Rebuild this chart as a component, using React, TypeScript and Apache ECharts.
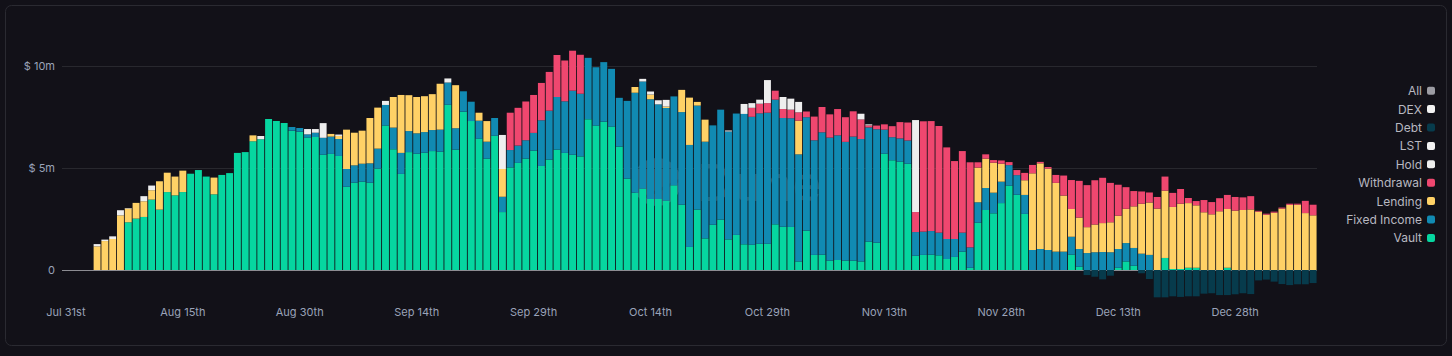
import React, { useEffect, useRef } from 'react';
import * as echarts from 'echarts';

// ---- categories: one per day, Jul 31st onward ----
const START = Date.UTC(2023, 6, 31);
const DAY_COUNT = 161;
const categories: string[] = [];
for (let i = 0; i < DAY_COUNT; i++) {
  categories.push(new Date(START + i * 86400000).toISOString().slice(0, 10));
}
const MONTHS = ['Jan', 'Feb', 'Mar', 'Apr', 'May', 'Jun', 'Jul', 'Aug', 'Sep', 'Oct', 'Nov', 'Dec'];

// ---- values, in $ millions ----
const vault = [
  0, 0, 0, 0, 0, 0, 0, 0, 2.34, 2.52,
  2.60, 3.45, 2.96, 3.82, 3.66, 3.82, 4.72, 4.90, 4.58, 3.71,
  4.66, 4.75, 5.74, 5.78, 6.31, 6.41, 7.40, 7.30, 7.21, 6.83,
  6.78, 6.49, 6.52, 5.65, 5.69, 5.59, 4.08, 4.28, 4.33, 4.28,
  4.97, 7.08, 5.92, 4.71, 5.78, 5.70, 5.75, 5.83, 5.80, 8.10,
  5.90, 7.76, 7.30, 6.44, 5.46, 6.58, 2.84, 5.03, 5.25, 5.46,
  5.85, 5.10, 5.41, 5.90, 5.74, 5.65, 5.57, 7.39, 7.08, 7.27,
  7.03, 6.05, 4.48, 3.79, 3.99, 3.48, 3.48, 3.40, 4.15, 3.20,
  1.13, 2.96, 1.55, 2.22, 2.47, 1.50, 1.72, 1.26, 1.24, 1.29,
  1.29, 2.24, 2.12, 2.11, 0.42, 1.93, 0.74, 0.75, 0.46, 0.49,
  0.46, 0.46, 0.42, 1.39, 1.34, 5.70, 5.38, 5.31, 5.21, 0.70,
  0.74, 0.75, 0.72, 0.54, 0.64, 0.90, 0.11, 2.32, 2.94, 2.78,
  3.28, 4.13, 3.69, 2.75, 0, 0, 0, 0, 0, 0.75,
  0.16, 0, 0, 0, 0, 0.11, 0.42, 0.21, 0, 0,
  0, 0.59, 0.05, 0.05, 0.11, 0.11, 0, 0, 0, 0.11,
  0, 0, 0, 0, 0, 0, 0, 0, 0, 0,
  0,
];

const fixedIncome = [
  0, 0, 0, 0, 0, 0, 0, 0, 0, 0,
  0, 0, 0, 0, 0, 0, 0, 0, 0, 0,
  0, 0, 0, 0, 0, 0, 0, 0, 0, 0.18,
  0.18, 0.16, 0.21, 0.83, 0.85, 0.83, 0.87, 0.85, 0.88, 0.95,
  0.98, 1.01, 1.06, 1.03, 1.03, 1.00, 1.01, 1.03, 1.08, 1.09,
  1.05, 1.00, 0.95, 0.88, 0.83, 0.87, 0.75, 0.85, 0.85, 0.90,
  0.87, 2.24, 2.40, 2.58, 2.53, 3.14, 3.07, 3.01, 2.86, 2.92,
  2.83, 2.39, 3.81, 4.90, 5.25, 4.89, 4.64, 4.54, 4.36, 4.54,
  5.00, 5.10, 4.74, 4.87, 5.39, 5.29, 5.95, 6.39, 6.27, 6.39,
  6.42, 6.11, 5.33, 5.33, 5.25, 5.56, 5.62, 6.00, 6.03, 6.11,
  5.82, 6.08, 6.00, 5.60, 5.56, 1.18, 1.13, 1.14, 1.14, 1.16,
  1.14, 1.16, 1.11, 0.98, 0.88, 0.93, 1.00, 1.00, 1.08, 1.01,
  1.05, 1.01, 0.96, 0.93, 0.98, 1.03, 0.98, 0.90, 0.90, 0.88,
  0.87, 0.83, 0.87, 0.88, 0.87, 0.92, 0.90, 0.87, 0.80, 0.74,
  0, 0, 0, 0, 0, 0, 0, 0, 0, 0,
  0, 0, 0, 0, 0, 0, 0, 0, 0, 0,
  0,
];

const lending = [
  0, 0, 0, 0, 1.16, 1.42, 1.52, 2.68, 0.67, 0.77,
  0.77, 0.46, 1.39, 0.95, 0.92, 1.05, 0, 0, 0, 0.82,
  0, 0, 0, 0, 0.29, 0, 0, 0, 0, 0,
  0, 0, 0, 0, 0.13, 0.15, 1.93, 1.60, 1.62, 2.22,
  2.01, 0, 1.50, 2.84, 1.76, 1.78, 1.76, 1.76, 2.25, 0,
  2.11, 0, 0, 0.39, 1.01, 0, 1.36, 0, 0, 0,
  0, 0, 0, 0, 0, 0, 0, 0, 0, 0,
  0, 0, 0, 0.28, 0, 0.23, 0, 0.07, 0, 1.09,
  2.32, 0.18, 1.08, 0, 0, 0, 0, 0, 0, 0,
  0, 0, 0, 0, 1.65, 0, 0, 0, 0, 0,
  0, 0, 0, 0, 0, 0, 0, 0, 0, 0,
  0, 0, 0, 0, 0, 0, 0, 1.70, 1.44, 1.47,
  0.88, 0, 0, 0.72, 3.76, 4.20, 3.99, 3.37, 2.75, 1.36,
  1.54, 1.27, 1.36, 1.42, 1.47, 1.63, 1.68, 2.04, 2.45, 2.57,
  3.01, 3.30, 3.04, 3.20, 3.17, 3.06, 2.83, 2.73, 2.88, 2.88,
  2.91, 2.94, 2.97, 2.86, 2.71, 2.81, 3.01, 3.19, 3.20, 2.79,
  2.68,
];

const withdrawal = [
  0, 0, 0, 0, 0, 0, 0, 0, 0, 0,
  0, 0, 0, 0, 0, 0, 0, 0, 0, 0,
  0, 0, 0, 0, 0, 0, 0, 0, 0, 0,
  0, 0, 0, 0, 0, 0, 0, 0, 0, 0,
  0, 0, 0, 0, 0, 0, 0, 0, 0, 0,
  0, 0, 0, 0, 0, 0, 0, 1.83, 1.85, 1.90,
  1.86, 1.83, 1.90, 2.06, 2.00, 1.96, 1.91, 0, 0, 0,
  0, 0, 0, 0, 0, 0, 0, 0, 0, 0,
  0, 0, 0, 0, 0, 0, 0, 0, 0.44, 0.47,
  0.47, 0.44, 0.44, 0.42, 0.41, 0.28, 1.16, 1.24, 1.14, 1.29,
  1.21, 1.24, 0.96, 0.10, 0.18, 0.26, 0.54, 0.80, 0.88, 0.98,
  5.41, 5.39, 5.23, 4.49, 3.82, 4.00, 4.17, 0.26, 0.21, 0.13,
  0.16, 0.15, 0.25, 0.36, 0.41, 0.07, 0.08, 0.39, 0.98, 1.42,
  1.80, 2.06, 2.17, 2.22, 1.93, 1.52, 1.06, 0.75, 0.60, 0.49,
  0.57, 0.69, 0.69, 0.72, 0.25, 0.21, 0.60, 0.60, 0.64, 0.69,
  0.67, 0.62, 0.65, 0.04, 0.05, 0.05, 0.05, 0.06, 0.05, 0.60,
  0.52,
];

const hold = [
  0, 0, 0, 0, 0.11, 0.07, 0.13, 0.25, 0.03, 0,
  0.25, 0.23, 0, 0, 0, 0, 0, 0, 0, 0,
  0, 0, 0, 0, 0, 0.16, 0, 0, 0, 0,
  0, 0.26, 0.18, 0.72, 0, 0.07, 0, 0, 0, 0,
  0, 0.20, 0, 0, 0, 0, 0, 0, 0, 0.20,
  0, 0, 0, 0, 0, 0, 1.67, 0, 0, 0,
  0, 0, 0, 0, 0, 0, 0, 0, 0, 0,
  0, 0, 0, 0, 0.13, 0.15, 0.20, 0.33, 0, 0,
  0, 0, 0, 0, 0, 0.05, 0, 0.49, 0.23, 0.20,
  1.13, 0, 0.59, 0.54, 0.51, 0, 0, 0, 0, 0,
  0, 0, 0.28, 0.05, 0, 0, 0, 0, 0, 4.51,
  0, 0, 0, 0, 0, 0, 0, 0, 0, 0,
  0, 0, 0, 0, 0, 0, 0, 0, 0, 0,
  0, 0, 0, 0, 0, 0, 0, 0, 0, 0,
  0, 0, 0, 0, 0, 0, 0, 0, 0, 0,
  0, 0, 0, 0, 0, 0, 0, 0, 0, 0,
  0,
];

const debt = [
  0, 0, 0, 0, 0, 0, 0, 0, 0, 0,
  0, 0, 0, 0, 0, 0, 0, 0, 0, 0,
  0, 0, 0, 0, 0, 0, 0, 0, 0, 0,
  0, 0, 0, 0, 0, 0, 0, 0, 0, 0,
  0, 0, 0, 0, 0, 0, 0, 0, 0, 0,
  0, 0, 0, 0, 0, 0, 0, 0, 0, 0,
  0, 0, 0, 0, 0, 0, 0, 0, 0, 0,
  0, 0, 0, 0, 0, 0, 0, 0, 0, 0,
  0, 0, 0, 0, 0, 0, 0, 0, 0, 0,
  0, 0, 0, 0, 0, 0, 0, 0, 0, 0,
  0, 0, 0, 0, 0, 0, 0, 0, 0, 0,
  0, 0, 0, 0, 0, 0, 0, 0, 0, 0,
  0, 0, 0, 0, 0, 0, 0, 0, 0, 0,
  0, -0.25, -0.33, -0.46, -0.28, 0, 0, 0, -0.16, -0.44,
  -1.34, -1.34, -1.29, -1.32, -1.29, -1.29, -1.16, -1.14, -1.23, -1.23,
  -1.19, -1.14, -1.18, -0.51, -0.47, -0.57, -0.69, -0.74, -0.70, -0.70,
  -0.64,
];

const lst: number[] = [];
const dex: number[] = [];
const all: number[] = [];

const yTicks = [0, 5, 10];
const legendOrder = ['All', 'DEX', 'Debt', 'LST', 'Hold', 'Withdrawal', 'Lending', 'Fixed Income', 'Vault'];

const COLORS: Record<string, string> = {
  Vault: '#06d6a0',
  'Fixed Income': '#118ab2',
  Lending: '#ffd166',
  Withdrawal: '#ef476f',
  Hold: '#eeeeee',
  LST: '#f2f2f2',
  DEX: '#f2f2f2',
  Debt: '#073b4c',
  All: '#9c9ca3',
};

function ordinal(n: number) {
  const m = n % 100;
  if (m >= 11 && m <= 13) return n + 'th';
  const r = n % 10;
  return n + (r === 1 ? 'st' : r === 2 ? 'nd' : r === 3 ? 'rd' : 'th');
}

export default function App() {
  const ref = useRef<HTMLDivElement>(null);
  useEffect(() => {
    if (!ref.current) return;
    const chart = echarts.init(ref.current, null, { renderer: 'svg' });
    const seriesDefs: [string, number[]][] = [
      ['Vault', vault],
      ['Fixed Income', fixedIncome],
      ['Lending', lending],
      ['Withdrawal', withdrawal],
      ['Hold', hold],
      ['LST', lst],
      ['DEX', dex],
      ['Debt', debt],
      ['All', all],
    ];
    const font = 'Inter, "Noto Sans", sans-serif';
    chart.setOption({
      animation: false,
      backgroundColor: 'transparent',
      textStyle: { fontFamily: font },
      grid: { left: 62, right: 135, top: 25.2, bottom: 55.4, containLabel: false },
      legend: {
        data: legendOrder,
        orient: 'vertical',
        right: 12,
        top: 79.7,
        align: 'right',
        itemWidth: 8,
        itemHeight: 8,
        itemGap: 6.4,
        icon: 'roundRect',
        textStyle: { color: '#b8b8c0', fontSize: 12, fontFamily: font },
        selectedMode: false,
      },
      xAxis: {
        type: 'category',
        data: categories,
        axisLine: { show: false },
        axisTick: { show: false },
        splitLine: { show: false },
        axisLabel: {
          interval: 14,
          color: '#9aa3b8',
          fontSize: 11,
          margin: 6,
          fontFamily: font,
          formatter: (v: string) => {
            const d = new Date(v + 'T00:00:00Z');
            return MONTHS[d.getUTCMonth()] + ' ' + ordinal(d.getUTCDate());
          },
        },
      },
      yAxis: {
        type: 'value',
        min: -1.5,
        max: 12,
        axisLine: { show: false },
        axisTick: { show: false, customValues: yTicks },
        axisLabel: {
          customValues: yTicks,
          color: '#9aa3b8',
          fontSize: 11,
          margin: 7,
          fontFamily: font,
          formatter: (v: number) => (v === 0 ? '0' : '$ ' + v + 'm'),
        },
        splitLine: { show: true, lineStyle: { color: ['#8c8c92', '#28282e', '#28282e'], width: 1 } },
      },
      series: seriesDefs.map(([name, data]) => ({
        name,
        type: 'bar',
        stack: 'total',
        data,
        barCategoryGap: '11%',
        itemStyle: { color: COLORS[name] },
        emphasis: { disabled: true },
      })),
      graphic: [
        {
          type: 'rect',
          silent: true,
          shape: { x: 5.5, y: 5.5, width: 1441, height: 340, r: 6 },
          style: { fill: 'none', stroke: '#2a2a31', lineWidth: 1 },
          z: -10,
        },
        {
          type: 'group',
          silent: true,
          z: 100,
          children: [
            {
              type: 'circle',
              shape: { cx: 657, cy: 182, r: 24 },
              style: { fill: 'rgba(170,210,240,0.3)' },
            },
            {
              type: 'line',
              shape: { x1: 645, y1: 197, x2: 680, y2: 180 },
              style: { stroke: 'rgba(20,40,60,0.35)', lineWidth: 3 },
            },
            {
              type: 'text',
              x: 697,
              y: 183,
              style: {
                text: 'Dune',
                fontSize: 50,
                fontFamily: font,
                fill: 'rgba(255,255,255,0.2)',
                verticalAlign: 'middle',
                align: 'left',
              },
            },
          ],
        },
      ],
    });
    return () => chart.dispose();
  }, []);

  return (
    <div style={{ position: 'fixed', left: 0, top: 0, width: 1452, height: 356, background: '#121118' }}>
      <div ref={ref} style={{ width: 1452, height: 356 }} />
    </div>
  );
}
